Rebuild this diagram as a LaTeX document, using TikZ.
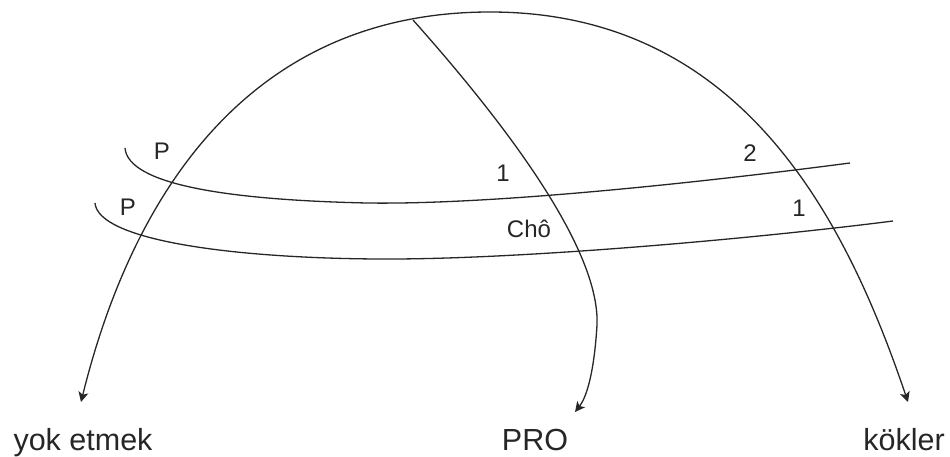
\documentclass[tikz,border=0pt]{standalone}
\usepackage{fontspec}
\setmainfont{Liberation Sans}
\usetikzlibrary{arrows.meta}
\begin{document}
\begin{tikzpicture}[x=1pt,y=-1pt,
  curve/.style={line width=1.3pt, draw=black!85},
  arr/.style={curve, -{Stealth[length=10pt,width=10pt,inset=2.5pt]}},
  small/.style={anchor=base, font=\fontsize{24}{28}\selectfont, text=black!85, inner sep=0pt},
  big/.style={anchor=base, font=\fontsize{30.5}{36}\selectfont, text=black!85, inner sep=0pt}]
\useasboundingbox (0,0) rectangle (950,457);
% key points
\coordinate (apex) at (490,12);
\coordinate (lt) at (81,402);
\coordinate (rt) at (908,402);
\coordinate (istart) at (413,20);
\coordinate (imid) at (597,325);
\coordinate (it) at (575,412);
\coordinate (u0) at (125,148);
\coordinate (u1) at (367,203);
\coordinate (u2) at (850,163);
\coordinate (l0) at (95,203);
\coordinate (l1) at (377,259);
\coordinate (l2) at (893,221);
% big arc
\draw[arr] (apex) .. controls (240,12) and (129,208) .. (lt);
\draw[arr] (apex) .. controls (740,12) and (845,216) .. (rt);
% inner curve
\draw[arr] (istart) .. controls (520,140) and (600,255) .. (imid)
  .. controls (594,375) and (586,398) .. (it);
% straps
\draw[curve] (u0) .. controls (128,185) and (230,200) .. (u1)
  .. controls (500,205) and (720,180) .. (u2);
\draw[curve] (l0) .. controls (98,240) and (230,258) .. (l1)
  .. controls (520,260) and (760,238) .. (l2);
% labels
\node[small] (pu) at (162,160) {P};
\node[small] (pl) at (128,215) {P};
\node[small] (one1) at (503,182) {1};
\node[small] (two) at (750,162) {2};
\node[small] (one2) at (799,217) {1};
\node[small] (cho) at (529,237) {Chô};
\node[big] (yok) at (83,450) {yok etmek};
\node[big] (pro) at (535,450) {PRO};
\node[big] (kok) at (904,450) {kökler};
\end{tikzpicture}
\end{document}
